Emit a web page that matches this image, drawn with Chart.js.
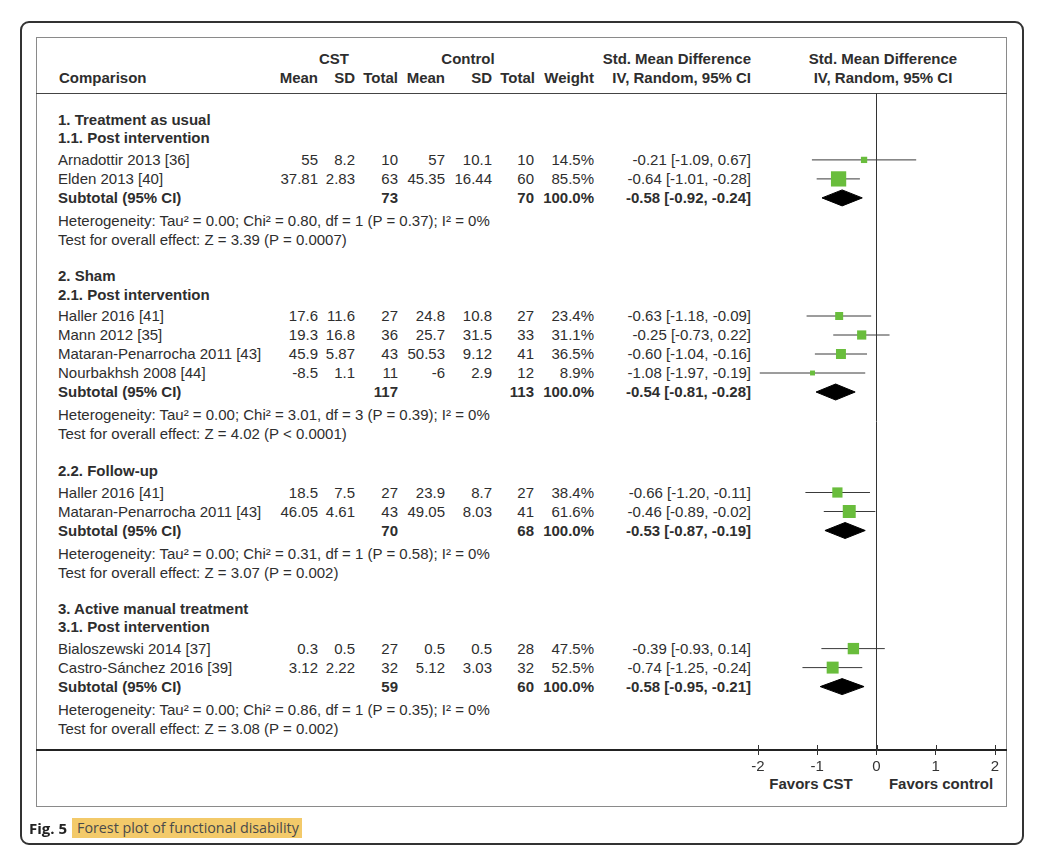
<!DOCTYPE html>
<html>
<head>
<meta charset="utf-8">
<script src="https://cdn.jsdelivr.net/npm/chart.js@4.4.1/dist/chart.umd.min.js"></script>
<style>
html,body{margin:0;padding:0;background:#fff;}
#page{position:relative;width:1043px;height:859px;overflow:hidden;font-family:"Liberation Sans",Arial,Helvetica,sans-serif;color:#2e2e2e;}
.t{position:absolute;font-size:15px;line-height:18px;white-space:nowrap;}
.b{font-weight:bold;}
#frame{position:absolute;left:20px;top:21px;width:1000px;height:820px;border:2px solid #333;border-radius:9px;}
#inner{position:absolute;left:36px;top:37px;width:969px;height:768px;border:1px solid #8a8a8a;}
.hl{position:absolute;height:1px;background:#333;}
#cap1{position:absolute;left:29px;top:818px;font-family:"Open Sans","Noto Sans",sans-serif;font-weight:bold;font-size:15px;line-height:20px;color:#222;}
#cap2{position:absolute;left:72px;top:818px;height:20px;padding:0 3px 0 5px;background:#f3ca6a;font-family:"Open Sans","Noto Sans",sans-serif;font-size:14.3px;line-height:20px;color:#4a4a4a;}
canvas{position:absolute;left:0;top:0;}
</style>
</head>
<body>
<div id="page">
  <div id="frame"></div>
  <div id="inner"></div>
  <div class="hl" style="left:36px;top:93px;width:971px;background:#444;"></div>
  <div class="hl" style="left:36px;top:749px;width:971px;height:1.5px;background:#222;"></div>
  <div id="texts"></div>
  <canvas id="c" width="1043" height="859" style="width:1043px;height:859px;"></canvas>
  <div id="cap1">Fig. 5</div>
  <div id="cap2">Forest plot of functional disability</div>
</div>
<script>
// ---------------- data ----------------
const studies = ["Arnadottir 2013 [36]", "Elden 2013 [40]", "Haller 2016 [41]", "Mann 2012 [35]",
  "Mataran-Penarrocha 2011 [43]", "Nourbakhsh 2008 [44]", "Haller 2016 [41]",
  "Mataran-Penarrocha 2011 [43]", "Bialoszewski 2014 [37]", "Castro-Sánchez 2016 [39]"];
const studyGroup = [0, 0, 1, 1, 1, 1, 2, 2, 3, 3];
const cstMean  = [55, 37.81, 17.6, 19.3, 45.9, -8.5, 18.5, 46.05, 0.3, 3.12];
const cstSD    = [8.2, 2.83, 11.6, 16.8, 5.87, 1.1, 7.5, 4.61, 0.5, 2.22];
const cstTotal = [10, 63, 27, 36, 43, 11, 27, 43, 27, 32];
const ctlMean  = [57, 45.35, 24.8, 25.7, 50.53, -6, 23.9, 49.05, 0.5, 5.12];
const ctlSD    = [10.1, 16.44, 10.8, 31.5, 9.12, 2.9, 8.7, 8.03, 0.5, 3.03];
const ctlTotal = [10, 60, 27, 33, 41, 12, 27, 41, 28, 32];
const weight   = [14.5, 85.5, 23.4, 31.1, 36.5, 8.9, 38.4, 61.6, 47.5, 52.5];
const smd      = [-0.21, -0.64, -0.63, -0.25, -0.60, -1.08, -0.66, -0.46, -0.39, -0.74];
const ciLow    = [-1.09, -1.01, -1.18, -0.73, -1.04, -1.97, -1.20, -0.89, -0.93, -1.25];
const ciHigh   = [0.67, -0.28, -0.09, 0.22, -0.16, -0.19, -0.11, -0.02, 0.14, -0.24];

const groupTitle = ["1. Treatment as usual", "2. Sham", null, "3. Active manual treatment"];
const groupSub   = ["1.1. Post intervention", "2.1. Post intervention", "2.2. Follow-up", "3.1. Post intervention"];
const subCstTotal = [73, 117, 70, 59];
const subCtlTotal = [70, 113, 68, 60];
const subSmd  = [-0.58, -0.54, -0.53, -0.58];
const subLow  = [-0.92, -0.81, -0.87, -0.95];
const subHigh = [-0.24, -0.28, -0.19, -0.21];
// diamonds as they are drawn in the picture
const diamondMid  = [-0.58, -0.69, -0.53, -0.58];
const diamondLow  = [-0.92, -1.02, -0.87, -0.95];
const diamondHigh = [-0.24, -0.36, -0.19, -0.21];
const heterogeneity = [
  "Heterogeneity: Tau² = 0.00; Chi² = 0.80, df = 1 (P = 0.37); I² = 0%",
  "Heterogeneity: Tau² = 0.00; Chi² = 3.01, df = 3 (P = 0.39); I² = 0%",
  "Heterogeneity: Tau² = 0.00; Chi² = 0.31, df = 1 (P = 0.58); I² = 0%",
  "Heterogeneity: Tau² = 0.00; Chi² = 0.86, df = 1 (P = 0.35); I² = 0%"];
const overallTest = [
  "Test for overall effect: Z = 3.39 (P = 0.0007)",
  "Test for overall effect: Z = 4.02 (P < 0.0001)",
  "Test for overall effect: Z = 3.07 (P = 0.002)",
  "Test for overall effect: Z = 3.08 (P = 0.002)"];
const xTicks = [-2, -1, 0, 1, 2];
const xLabels = ["Favors CST", "Favors control"];

// ---------------- layout (row positions, px below header rule) ----------------
const GAP_TITLE = 36.2, GAP_SUB = 37, TITLE_SUB = 18.4, SUB_STUDY = 21.5, ROW = 19, SUB_HET = 23, HET_TEST = 19;
const PLOT_DEPTH = 657;
const titleY = [], subY = [], studyY = [], subtotalY = [], hetY = [], testY = [];
let yy = 27;
for (let g = 0; g < groupSub.length; g++) {
  if (g > 0) yy += groupTitle[g] ? GAP_TITLE : GAP_SUB;
  if (groupTitle[g]) { titleY[g] = yy; yy += TITLE_SUB; }
  subY[g] = yy; yy += SUB_STUDY;
  studyGroup.forEach((sg, i) => { if (sg === g) { studyY[i] = yy; yy += ROW; } });
  subtotalY[g] = yy; yy += SUB_HET;
  hetY[g] = yy; yy += HET_TEST;
  testY[g] = yy;
}

// ---------------- chart ----------------
const GREEN = '#69bd3c';
const ciData = [];
studies.forEach((s, i) => {
  ciData.push({x: ciLow[i], y: studyY[i]}, {x: ciHigh[i], y: studyY[i]}, {x: null, y: null});
});
const squareData = studies.map((s, i) => ({x: smd[i], y: studyY[i]}));
const squareRadius = weight.map(w => 1.65 * Math.sqrt(w) / Math.SQRT2);

const datasets = [
  {type: 'scatter', data: squareData, pointStyle: 'rect', pointRadius: squareRadius,
   pointHoverRadius: squareRadius, backgroundColor: GREEN, borderColor: GREEN, borderWidth: 0, order: 0},
  {type: 'line', data: ciData, borderColor: '#3a3a3a', borderWidth: 1, pointRadius: 0,
   spanGaps: false, fill: false, tension: 0, order: 1}
];
subSmd.forEach((v, g) => {
  const y = subtotalY[g];
  datasets.push({type: 'line', data: [
      {x: diamondLow[g], y: y}, {x: diamondMid[g], y: y - 8}, {x: diamondHigh[g], y: y},
      {x: diamondMid[g], y: y + 8}, {x: diamondLow[g], y: y}],
    borderColor: '#000', backgroundColor: '#000', borderWidth: 1, pointRadius: 0,
    fill: 'shape', tension: 0, order: 2});
});

const upTicks = {
  id: 'upTicks',
  afterDraw(c) {
    const s = c.scales.x, ctx = c.ctx;
    ctx.save(); ctx.strokeStyle = '#333'; ctx.lineWidth = 1;
    s.ticks.forEach(t => {
      const px = Math.round(s.getPixelForValue(t.value)) + 0.5;
      ctx.beginPath(); ctx.moveTo(px, s.top - 5); ctx.lineTo(px, s.top + 1); ctx.stroke();
    });
    ctx.restore();
  }
};

const chart = new Chart(document.getElementById('c'), {
  type: 'scatter',
  data: {datasets},
  plugins: [upTicks],
  options: {
    responsive: false, animation: false, events: [],
    layout: {padding: {left: 758, right: 48, top: 93, bottom: 0}},
    plugins: {legend: {display: false}, tooltip: {enabled: false}},
    scales: {
      x: {
        type: 'linear', min: -2, max: 2, position: 'bottom',
        afterBuildTicks: s => { s.ticks = xTicks.map(v => ({value: v})); },
        afterFit: s => { s.height = 109; },
        border: {display: false},
        grid: {drawOnChartArea: true, drawTicks: true, tickLength: 5, lineWidth: 1,
               color: c => (c.tick && c.tick.value === 0) ? '#333' : 'rgba(0,0,0,0)', tickColor: '#333'},
        ticks: {color: '#333', font: {family: '"Liberation Sans", Arial', size: 15}, padding: 3,
                maxRotation: 0, autoSkip: false}
      },
      y: {type: 'linear', display: false, min: 0, max: PLOT_DEPTH, reverse: true}
    }
  }
});

// ---------------- text ----------------
const host = document.getElementById('texts');
function txt(str, x, yc, align, bold) {
  const d = document.createElement('div');
  d.className = 't' + (bold ? ' b' : '');
  d.textContent = str;
  if (align === 'right') { d.style.left = (x - 400) + 'px'; d.style.width = '400px'; d.style.textAlign = 'right'; }
  else if (align === 'center') { d.style.left = (x - 200) + 'px'; d.style.width = '400px'; d.style.textAlign = 'center'; }
  else d.style.left = x + 'px';
  d.style.top = (yc - 9) + 'px';
  host.appendChild(d);
}
const ys = v => chart.scales.y.getPixelForValue(v);
const f2 = v => v.toFixed(2);
const ci = (m, l, h) => f2(m) + ' [' + f2(l) + ', ' + f2(h) + ']';
const COL = {name: 58, cm: 318, csd: 355, ct: 398, km: 445, ksd: 492, kt: 534, w: 594, ci: 751, plot: 883};

// header
txt('CST', 334, 59, 'center', true);
txt('Control', 468, 59, 'center', true);
txt('Std. Mean Difference', COL.ci, 59, 'right', true);
txt('Std. Mean Difference', COL.plot, 59, 'center', true);
txt('Comparison', 59, 78, 'left', true);
txt('Mean', COL.cm, 78, 'right', true);
txt('SD', COL.csd, 78, 'right', true);
txt('Total', COL.ct, 78, 'right', true);
txt('Mean', COL.km, 78, 'right', true);
txt('SD', COL.ksd, 78, 'right', true);
txt('Total', COL.kt + 1, 78, 'right', true);
txt('Weight', COL.w, 78, 'right', true);
txt('IV, Random, 95% CI', COL.ci, 78, 'right', true);
txt('IV, Random, 95% CI', COL.plot, 78, 'center', true);

for (let g = 0; g < groupSub.length; g++) {
  if (groupTitle[g]) txt(groupTitle[g], COL.name, ys(titleY[g]), 'left', true);
  txt(groupSub[g], COL.name, ys(subY[g]), 'left', true);
  studies.forEach((s, i) => {
    if (studyGroup[i] !== g) return;
    const y = ys(studyY[i]);
    txt(s, COL.name, y, 'left', false);
    txt(String(cstMean[i]), COL.cm, y, 'right');
    txt(String(cstSD[i]), COL.csd, y, 'right');
    txt(String(cstTotal[i]), COL.ct, y, 'right');
    txt(String(ctlMean[i]), COL.km, y, 'right');
    txt(String(ctlSD[i]), COL.ksd, y, 'right');
    txt(String(ctlTotal[i]), COL.kt, y, 'right');
    txt(weight[i].toFixed(1) + '%', COL.w, y, 'right');
    txt(ci(smd[i], ciLow[i], ciHigh[i]), COL.ci, y, 'right');
  });
  const ySub = ys(subtotalY[g]);
  txt('Subtotal (95% CI)', COL.name, ySub, 'left', true);
  txt(String(subCstTotal[g]), COL.ct, ySub, 'right', true);
  txt(String(subCtlTotal[g]), COL.kt, ySub, 'right', true);
  txt('100.0%', COL.w, ySub, 'right', true);
  txt(ci(subSmd[g], subLow[g], subHigh[g]), COL.ci, ySub, 'right', true);
  txt(heterogeneity[g], COL.name, ys(hetY[g]), 'left', false);
  txt(overallTest[g], COL.name, ys(testY[g]), 'left', false);
}
txt(xLabels[0], 811, 784, 'center', true);
txt(xLabels[1], 941, 784, 'center', true);
</script>
</body>
</html>
